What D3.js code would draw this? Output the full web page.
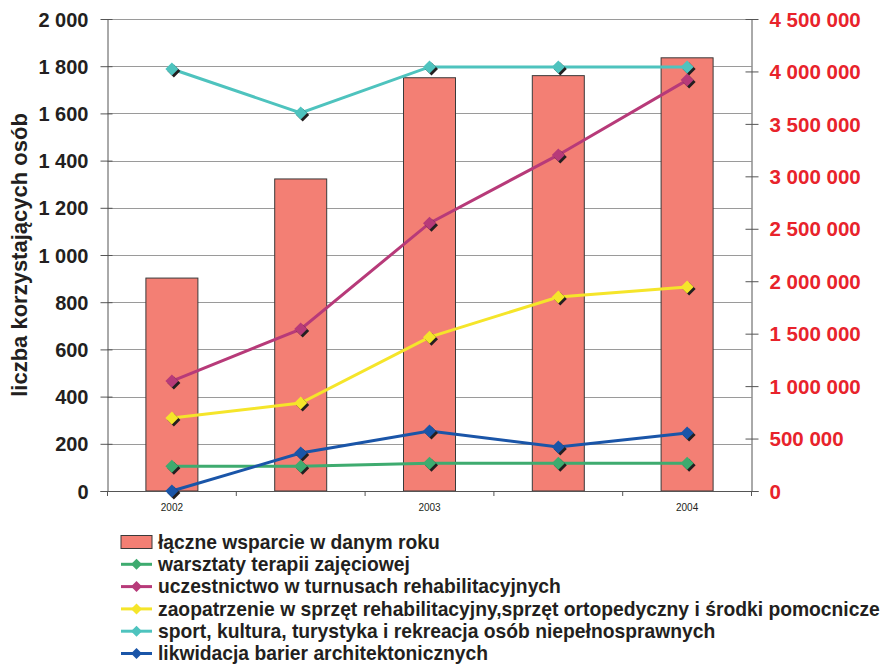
<!DOCTYPE html>
<html><head><meta charset="utf-8">
<script src="https://cdn.jsdelivr.net/npm/d3@7/dist/d3.min.js"></script>
<style>
body{margin:0;background:#fff;}
svg{font-family:"Liberation Sans",Arial,sans-serif;}
</style></head>
<body><svg id="c" width="884" height="664"></svg>
<script>
const categories = ["2002", "2002b", "2003", "2003b", "2004"];
const tickLabels = ["2002", "", "2003", "", "2004"];
const totalSupport = [2030000, 2975000, 3940000, 3960000, 4130000];
const warsztaty = [105, 105, 118, 118, 118];
const turnusy = [466, 686, 1135, 1424, 1741];
const zaopatrzenie = [309, 373, 652, 822, 864];
const sport = [1788, 1602, 1797, 1797, 1797];
const bariery = [0, 161, 254, 186, 246];
const leftTicks = [0,200,400,600,800,1000,1200,1400,1600,1800,2000];
const rightTicks = [0,500000,1000000,1500000,2000000,2500000,3000000,3500000,4000000,4500000];
const seriesNames = ["łączne wsparcie w danym roku","warsztaty terapii zajęciowej","uczestnictwo w turnusach rehabilitacyjnych","zaopatrzenie w sprzęt rehabilitacyjny,sprzęt ortopedyczny i środki pomocnicze","sport, kultura, turystyka i rekreacja osób niepełnosprawnych","likwidacja barier architektonicznych"];
const lineColors = ["#3eab6f","#b73a79","#f5e52a","#4ec3be","#1a55a8"];
const lineData = [warsztaty, turnusy, zaopatrzenie, sport, bariery];

const svg = d3.select("#c");
const L = 107.5, R = 751.5, T = 19, B = 491;
const x = d3.scaleBand().domain(categories).range([L, R]).paddingInner(0).paddingOuter(0);
const yL = d3.scaleLinear().domain([0, 2000]).range([B, T]);
const yR = d3.scaleLinear().domain([0, 4500000]).range([B, T]);
const fmt = v => d3.format(",")(v).replace(/,/g, " ");

// gridlines
svg.append("g").selectAll("line").data(leftTicks.filter(d=>d>0)).join("line")
  .attr("x1", L).attr("x2", R).attr("y1", d=>Math.round(yL(d))+0.5).attr("y2", d=>Math.round(yL(d))+0.5)
  .attr("stroke", "#9a9a9a").attr("stroke-width", 1);

// bars
const bw = 52;
svg.append("g").selectAll("rect").data(totalSupport).join("rect")
  .attr("x", (d,i)=>x(categories[i]) + x.bandwidth()/2 - bw/2)
  .attr("y", d=>yR(d)).attr("width", bw).attr("height", d=>B - yR(d))
  .attr("fill", "#f37f74").attr("stroke", "#3a3a3a").attr("stroke-width", 1);

// axes
const axL = d3.axisLeft(yL).tickValues(leftTicks).tickFormat(fmt).tickSizeInner(7).tickSizeOuter(0);
const gL = svg.append("g").attr("transform", `translate(${L},0)`).call(axL);
gL.selectAll("text").attr("font-size", 20).attr("font-weight", "bold").attr("fill", "#231f20").attr("x", -19).attr("dy", "0.35em");
gL.selectAll(".tick line").attr("x1", 5).attr("stroke", "#555");
gL.select(".domain").attr("stroke", "#555");

const axR = d3.axisRight(yR).tickValues(rightTicks).tickFormat(fmt).tickSizeInner(7).tickSizeOuter(0);
const gR = svg.append("g").attr("transform", `translate(${R},0)`).call(axR);
gR.selectAll("text").attr("font-size", 20.5).attr("font-weight", "bold").attr("fill", "#e8232b").attr("x", 18).attr("dy", "0.35em");
gR.selectAll(".tick line").attr("x1", -6).attr("stroke", "#555");
gR.select(".domain").attr("stroke", "#555");

// x axis
const gX = svg.append("g").attr("transform", `translate(0,${B})`);
gX.append("line").attr("x1", L-7).attr("x2", R+7).attr("y1", 0.5).attr("y2", 0.5).attr("stroke", "#555");
const bounds = categories.map(c=>x(c)).concat([R]);
gX.selectAll("line.t").data(bounds).join("line").attr("class","t")
  .attr("x1", d=>d).attr("x2", d=>d).attr("y1", 0).attr("y2", 5).attr("stroke", "#555");
gX.selectAll("text").data(categories).join("text")
  .attr("x", d=>x(d)+x.bandwidth()/2).attr("y", 20).attr("text-anchor","middle")
  .attr("font-size", 10).attr("fill", "#231f20").text((d,i)=>tickLabels[i]);

// y title
svg.append("text").attr("transform", "translate(27,255) rotate(-90)").attr("text-anchor","middle")
  .attr("font-size", 22).attr("font-weight","bold").attr("fill","#231f20").text("liczba korzystających osób");

// lines
const cx = i => x(categories[i]) + x.bandwidth()/2;
const line = d3.line().x((d,i)=>cx(i)).y(d=>yL(d));
const diamond = "M0,-6.5L6.5,0L0,6.5L-6.5,0Z";
lineData.forEach((data, k) => {
  svg.append("path").datum(data).attr("d", line).attr("fill","none")
    .attr("stroke", lineColors[k]).attr("stroke-width", 3);
});
lineData.forEach((data, k) => {
  const g = svg.append("g");
  g.selectAll("path.s").data(data).join("path").attr("class","s")
    .attr("transform",(d,i)=>`translate(${cx(i)+2},${yL(d)+2})`).attr("d", diamond).attr("fill","#231f20");
  g.selectAll("path.m").data(data).join("path").attr("class","m")
    .attr("transform",(d,i)=>`translate(${cx(i)},${yL(d)})`).attr("d", diamond).attr("fill", lineColors[k]);
});

// legend
const lg = svg.append("g");
const ly0 = 542, ldy = 22.3;
seriesNames.forEach((name, i) => {
  const y = ly0 + i*ldy;
  if (i === 0) {
    lg.append("rect").attr("x",121).attr("y",y-6.5).attr("width",31).attr("height",13)
      .attr("fill","#f37f74").attr("stroke","#3a3a3a");
  } else {
    const c = lineColors[i-1];
    lg.append("line").attr("x1",121).attr("x2",152).attr("y1",y).attr("y2",y).attr("stroke",c).attr("stroke-width",3);
    lg.append("path").attr("transform",`translate(136.5,${y})`).attr("d","M0,-5.5L5.5,0L0,5.5L-5.5,0Z").attr("fill",c);
  }
  lg.append("text").attr("x",158).attr("y",y).attr("dy","0.35em").attr("font-size",19.3)
    .attr("font-weight","bold").attr("fill","#231f20").text(name);
});
</script></body></html>
